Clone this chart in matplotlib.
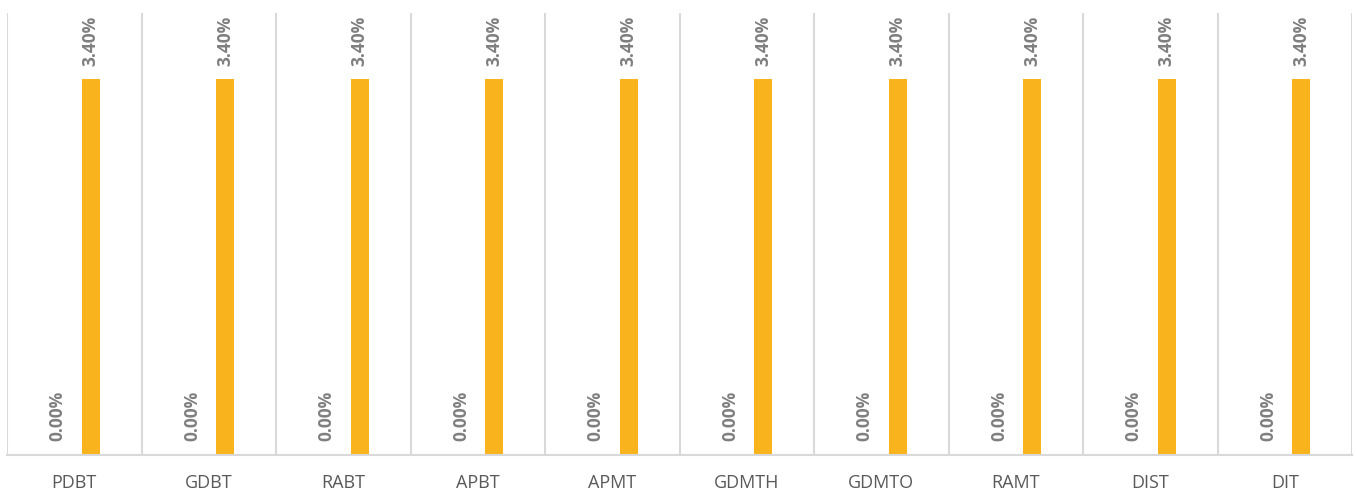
import matplotlib.pyplot as plt
import numpy as np

categories = ["PDBT", "GDBT", "RABT", "APBT", "APMT", "GDMTH", "GDMTO", "RAMT", "DIST", "DIT"]
series_a = [0.0, 0.0, 0.0, 0.0, 0.0, 0.0, 0.0, 0.0, 0.0, 0.0]
series_b = [3.40, 3.40, 3.40, 3.40, 3.40, 3.40, 3.40, 3.40, 3.40, 3.40]

bar_color = "#F9B31C"
grid_color = "#D9D9D9"
label_color = "#7F7F7F"

fig = plt.figure(figsize=(13.56, 4.93), dpi=100)
ax = fig.add_axes([7 / 1356, 38 / 493, 1345 / 1356, 442 / 493])

x = np.arange(len(categories))
width = 0.135
offset = 0.123

ax.bar(x - offset, series_a, width=width, color="#4472C4")
ax.bar(x + offset, series_b, width=width, color=bar_color)

# data labels, rotated like the original
for xi, va, vb in zip(x, series_a, series_b):
    ax.text(xi - offset, va + 0.13, f"{va:.2f}%", rotation=90, ha="center", va="bottom",
            fontsize=12.5, fontweight="bold", color=label_color, family="Open Sans")
    ax.text(xi + offset, vb + 0.12, f"{vb:.2f}%", rotation=90, ha="center", va="bottom",
            fontsize=12.5, fontweight="bold", color=label_color, family="Open Sans")

# category separators
for b in np.arange(len(categories) + 1) - 0.5:
    ax.axvline(b, color=grid_color, linewidth=1.5, zorder=0)

ax.set_xlim(-0.5, len(categories) - 0.5)
ax.set_ylim(0, 4.0)
ax.set_yticks([])
ax.set_xticks(x)
ax.set_xticklabels(categories, fontsize=13, color="#595959", family="Open Sans")
ax.tick_params(axis="x", length=0, pad=14)

for side in ["top", "left", "right"]:
    ax.spines[side].set_visible(False)
ax.spines["bottom"].set_color(grid_color)
ax.spines["bottom"].set_linewidth(1.5)

fig.savefig("out.png", dpi=100)
